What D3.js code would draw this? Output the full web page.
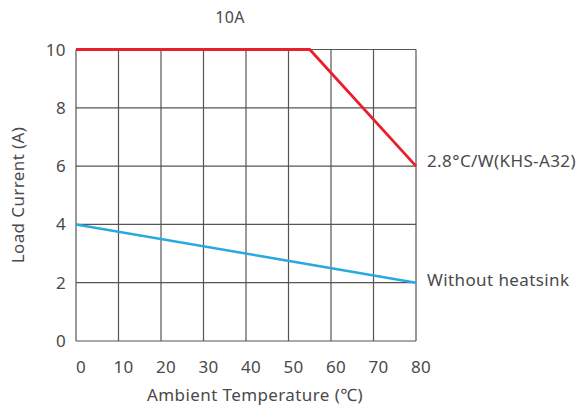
<!DOCTYPE html>
<html><head><meta charset="utf-8">
<script src="https://cdn.jsdelivr.net/npm/d3@7"></script>
<style>body{margin:0;background:#fff}svg{display:block}text{font-family:"Noto Sans",sans-serif;fill:#4a4a4a;letter-spacing:0.4px}</style>
</head><body><svg id="c" width="583" height="411"></svg>
<script>
const xTicks=[0,10,20,30,40,50,60,70,80];
const yTicks=[0,2,4,6,8,10];
const redTemp=[0,55,80];
const redCurrent=[10,10,6];
const blueTemp=[0,80];
const blueCurrent=[4,2];
const seriesLabels=["2.8°C/W(KHS-A32)","Without heatsink"];
const title="10A";

const svg=d3.select("#c");
const x=d3.scaleLinear().domain([0,80]).range([76,416]);
const y=d3.scaleLinear().domain([0,10]).range([341,49.5]);
const g=svg.append("g");
g.selectAll(".vx").data(xTicks).join("line").attr("x1",d=>x(d)).attr("x2",d=>x(d)).attr("y1",y(0)).attr("y2",y(10)).attr("stroke","#555").attr("stroke-width",1.2);
g.selectAll(".hy").data(yTicks).join("line").attr("y1",d=>y(d)).attr("y2",d=>y(d)).attr("x1",x(0)).attr("x2",x(80)).attr("stroke","#555").attr("stroke-width",1.2);
g.selectAll(".xt").data(xTicks).join("text").attr("x",d=>x(d)+5).attr("y",373).attr("text-anchor","middle").attr("font-size",17).text(d=>d);
g.selectAll(".yt").data(yTicks).join("text").attr("x",66).attr("y",d=>y(d)+6).attr("text-anchor","end").attr("font-size",17).text(d=>d);
const line=d3.line().x(d=>x(d[0])).y(d=>y(d[1]));
svg.append("path").attr("d",line(blueTemp.map((t,i)=>[t,blueCurrent[i]]))).attr("fill","none").attr("stroke","#29a9e1").attr("stroke-width",2.5);
svg.append("path").attr("d",line(redTemp.map((t,i)=>[t,redCurrent[i]]))).attr("fill","none").attr("stroke","#ea1f2b").attr("stroke-width",2.8);
svg.append("text").attr("x",427).attr("y",y(6)+1).attr("font-size",17).text(seriesLabels[0]);
svg.append("text").attr("x",427).attr("y",y(2)+3).attr("font-size",17).text(seriesLabels[1]);
svg.append("text").attr("x",230).attr("y",23).attr("text-anchor","middle").attr("font-size",16).text(title);
svg.append("text").attr("x",255).attr("y",401).attr("text-anchor","middle").attr("font-size",17).text("Ambient Temperature (℃)");
svg.append("text").attr("transform","translate(24,195) rotate(-90)").attr("text-anchor","middle").attr("font-size",17).text("Load Current (A)");
</script></body></html>
